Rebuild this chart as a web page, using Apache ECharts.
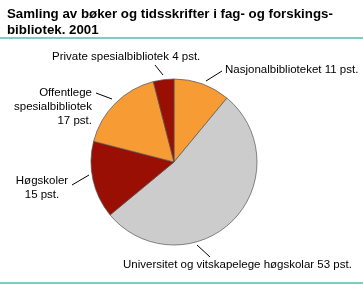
<!doctype html>
<html>
<head>
    <meta charset="utf-8">
    <title>Samling av bøker og tidsskrifter</title>
    <script src="https://cdn.jsdelivr.net/npm/echarts@6/dist/echarts.min.js"></script>
    <style>
        body{
            margin:0;
            padding:0;
            background:#fff;
        }
        #chart{
            width:363px;
            height:285px;
        }
    </style>
</head>
<body>
<div id="chart"></div>
<script>
    // data, clockwise from 12 o'clock
    var names = ['Nasjonalbiblioteket', 'Universitet og vitskapelege høgskolar', 'Høgskoler', 'Offentlege spesialbibliotek', 'Private spesialbibliotek'];
    var values = [11, 53, 15, 17, 4];
    var labels = ['Nasjonalbiblioteket 11 pst.', 'Universitet og vitskapelege høgskolar 53 pst.', 'Høgskoler\n15 pst.', 'Offentlege\nspesialbibliotek\n17 pst.', 'Private spesialbibliotek 4 pst.'];
    var colors = ['#f79b35', '#cccccc', '#990f04', '#f79b35', '#990f04'];

    // where each label sits, and its pointer line
    var labelPos = [
        {x: 225, y: 70, align: 'left', line: [[206, 81], [222, 71]]},
        {x: 123, y: 265, align: 'left', line: [[197, 245], [210, 257]]},
        {x: 42, y: 188, align: 'center', line: [[89, 175], [72, 185]]},
        {x: 92, y: 107, align: 'right', line: [[112, 99], [96, 93]]},
        {x: 52, y: 57, align: 'left', line: [[163, 75], [155, 65]]}
    ];

    var myChart = echarts.init(document.getElementById('chart'));
    var option = {
        animation: false,
        title: {
            text: 'Samling av bøker og tidsskrifter i fag- og forskings-\nbibliotek. 2001',
            left: 2,
            top: 1,
            textStyle: {
                fontFamily: 'Liberation Sans',
                fontSize: 13.3,
                fontWeight: 'bold',
                lineHeight: 16,
                color: '#000'
            }
        },
        graphic: [
            {type: 'rect', shape: {x: 0, y: 37, width: 363, height: 2}, style: {fill: '#80cbc6'}},
            {type: 'rect', shape: {x: 0, y: 282, width: 363, height: 2}, style: {fill: '#80cbc6'}}
        ],
        series: [
            {
                type: 'pie',
                center: [174, 162],
                radius: 83,
                startAngle: 90,
                clockwise: true,
                silent: true,
                avoidLabelOverlap: false,
                data: names.map(function (n, i) {
                    return {name: n, value: values[i], itemStyle: {color: colors[i]}};
                }),
                itemStyle: {
                    borderColor: '#555',
                    borderWidth: 0.7
                },
                label: {
                    show: true,
                    position: 'outside',
                    overflow: 'none',
                    width: 300,
                    formatter: function (p) { return labels[p.dataIndex]; },
                    fontFamily: 'Liberation Sans',
                    fontSize: 11.5,
                    lineHeight: 14,
                    color: '#000'
                },
                labelLine: {
                    show: true,
                    lineStyle: {color: '#000', width: 1}
                },
                labelLayout: function (params) {
                    var p = labelPos[params.dataIndex];
                    return {
                        x: p.x,
                        y: p.y,
                        align: p.align,
                        verticalAlign: 'middle',
                        labelLinePoints: [p.line[0], p.line[1], p.line[1]]
                    };
                }
            }
        ]
    };
    myChart.setOption(option, true);
</script>
</body>
</html>
